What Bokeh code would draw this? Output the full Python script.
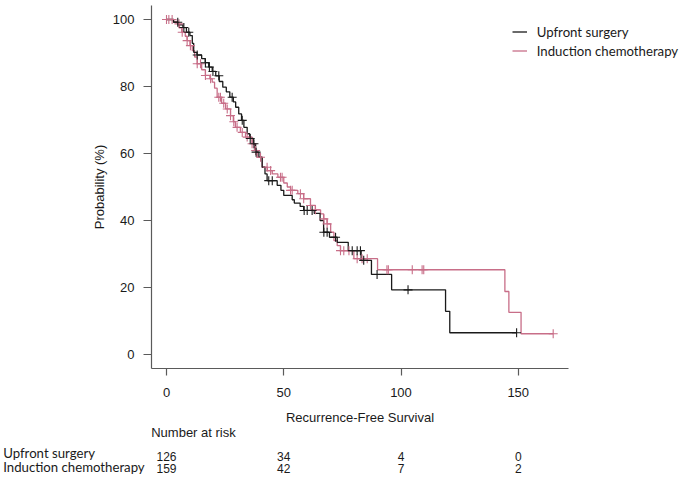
import numpy as np
from bokeh.plotting import figure
from bokeh.models import Range1d, FixedTicker, Legend, LegendItem
from bokeh.core.properties import value
from bokeh.embed import file_html
from bokeh.resources import INLINE

# ---------------- data ----------------
group_names = ["Upfront surgery", "Induction chemotherapy"]

# Upfront surgery: event times and survival (%) after each event
surg_times = [3, 5, 7, 8.5, 10, 11, 11.6, 13, 15, 16.5, 18, 19.5, 21, 22.5, 24, 25.5,
              27, 28.5, 29.5, 30.8, 32, 33, 34.4, 35.5, 37, 38, 39.4, 40.8, 42, 42.9,
              47.2, 48.8, 50, 53.6, 54.5, 57, 58.5, 63, 65.5, 67, 69.5, 72.8, 77.5,
              83, 87.4, 96, 119, 120.8]
surg_surv = [99.2, 98.4, 97.6, 96.2, 95.2, 92.9, 90.2, 89.4, 88.3, 87.1, 85.8, 84.5,
             83.2, 81.5, 79.8, 78.4, 76.8, 75.4, 73.8, 71.8, 69.9, 67.8, 65.9, 64.5,
             62.9, 60.4, 58.9, 55.9, 53.9, 51.9, 50.5, 49.0, 47.5, 46.2, 45.2, 44.2,
             43.0, 42.1, 40.0, 36.5, 35.0, 33.5, 31.0, 28.1, 23.9, 19.3, 12.9, 6.5]
surg_censor = [4.8, 7.4, 9.5, 13.1, 16.6, 18.3, 19.8, 22.3, 28.0, 32.3, 35.7, 37.3,
               38.2, 43.6, 45.1, 58.7, 60.0, 62.1, 67.1, 68.5, 72.1, 79.2, 81.3,
               82.7, 84.1, 89.8, 103.0]
surg_end = 149.3

# Induction chemotherapy
chemo_times = [3, 4.6, 5.5, 6.5, 8, 8.8, 10, 11, 12, 13.1, 15, 16.6, 18.5, 19.5, 20.5,
               21.6, 23.5, 25.2, 27.3, 28.5, 29.4, 31.5, 33.7, 36.5, 37.5, 38.7, 40.8,
               43, 45.1, 47.5, 50, 51.5, 52.9, 56, 58.5, 61.4, 63.5, 65.7, 67, 68.5,
               70, 71.4, 72.8, 74.2, 79.9, 90, 144.3, 146, 151.2]
chemo_surv = [99.4, 98.7, 97.5, 96.2, 95.0, 93.7, 92.2, 90.7, 88.8, 86.8, 85.0, 83.3,
              82.3, 81.3, 79.5, 76.8, 75.0, 73.3, 71.3, 69.5, 67.8, 66.3, 64.9, 62.9,
              60.9, 58.9, 55.9, 54.9, 53.9, 52.9, 51.2, 50.0, 49.0, 48.0, 46.5, 44.5,
              43.2, 42.0, 40.5, 39.0, 36.5, 34.0, 32.5, 31.0, 28.6, 25.3, 18.8, 12.6, 6.2]
chemo_censor = [0.0, 1.0, 2.4, 5.3, 6.7, 8.8, 10.2, 13.1, 14.5, 16.6, 18.8, 22.3, 23.0,
                24.4, 25.9, 27.3, 28.7, 30.1, 32.3, 34.4, 36.5, 38.0, 40.1, 42.9, 44.4,
                48.6, 49.3, 52.9, 53.6, 57.1, 58.5, 61.4, 63.5, 67.1, 68.5, 74.2, 75.6,
                77.8, 81.3, 83.4, 85.6, 94.0, 94.6, 104.8, 109.0, 109.7]
chemo_end = 164.9

risk_times = [0, 50, 100, 150]
risk_surg = [126, 34, 4, 0]
risk_chemo = [159, 42, 7, 2]

x_ticks = [0, 50, 100, 150]
y_ticks = [0, 20, 40, 60, 80, 100]

x_title = "Recurrence-Free Survival"
y_title = "Probability (%)"
risk_title = "Number at risk"

# ---------------- styles / geometry (page pixels) ----------------
BLACK = "#1a1a1a"
PINK = "#c86e88"
AXIS = "#5a5a5a"
TXT = "#1a1a1a"
SANS = "Liberation Sans"
CAL = "Lato"

W, H = 682, 482
AX_L, AX_T, AX_B, AX_R = 151, 5, 368, 568   # where the axis lines run
X_ZERO_PX, X_PX_PER = 166.0, 2.345
Y_ZERO_PX, Y_PX_PER = 354.0, 3.35


def xd(px):
    return (px - X_ZERO_PX) / X_PX_PER


def yd(py):
    return (Y_ZERO_PX - py) / Y_PX_PER


def km_path(times, surv, end):
    return [0] + list(times) + [end], [100] + list(surv) + [surv[-1]]


def surv_at(times, surv, ts):
    idx = np.searchsorted(np.array(times), np.array(ts), side="right")
    s = np.array([100.0] + list(surv))
    return list(s[idx])


p = figure(width=W, height=H, output_backend="svg", toolbar_location=None,
           x_range=Range1d(xd(0), xd(W)), y_range=Range1d(yd(H), yd(0)),
           min_border_left=0, min_border_right=0, min_border_top=0, min_border_bottom=0)
p.outline_line_color = None
p.xgrid.visible = False
p.ygrid.visible = False
p.background_fill_color = "white"
p.border_fill_color = "white"

for ax in (p.xaxis[0], p.yaxis[0]):
    ax.axis_line_color = AXIS
    ax.axis_line_width = 1.2
    ax.major_tick_line_color = AXIS
    ax.major_tick_line_width = 1.2
    ax.major_tick_in = 0
    ax.minor_tick_line_color = None
    ax.major_label_text_font = SANS
    ax.major_label_text_font_size = "13px"
    ax.major_label_text_color = TXT
    ax.axis_label_text_font = SANS
    ax.axis_label_text_font_size = "13px"
    ax.axis_label_text_font_style = "normal"
    ax.axis_label_text_color = TXT

p.xaxis.ticker = FixedTicker(ticks=x_ticks)
p.yaxis.ticker = FixedTicker(ticks=y_ticks)
p.xaxis.fixed_location = yd(AX_B)
p.yaxis.fixed_location = xd(AX_L)
p.xaxis.bounds = (xd(AX_L), xd(AX_R))
p.yaxis.bounds = (yd(AX_B), yd(AX_T))
p.xaxis.major_tick_out = 7
p.yaxis.major_tick_out = 8
p.xaxis.major_label_standoff = 12
p.yaxis.major_label_standoff = 9
p.yaxis.axis_label = y_title
p.yaxis.axis_label_standoff = 3

sx, sy = km_path(surg_times, surg_surv, surg_end)
cx, cy = km_path(chemo_times, chemo_surv, chemo_end)
r_chemo = p.step(cx, cy, mode="after", line_color=PINK, line_width=1.3)
r_surg = p.step(sx, sy, mode="after", line_color=BLACK, line_width=1.3)

c_all = chemo_censor + [chemo_end]
s_all = surg_censor + [surg_end]
p.scatter(c_all, surv_at(chemo_times, chemo_surv, c_all),
          marker="cross", size=9, line_color=PINK, line_width=1.1)
p.scatter(s_all, surv_at(surg_times, surg_surv, s_all),
          marker="cross", size=9, line_color=BLACK, line_width=1.1)

legend = Legend(items=[LegendItem(label=group_names[0], renderers=[r_surg]),
                       LegendItem(label=group_names[1], renderers=[r_chemo])],
                location=(511.7, H - 59.2),
                glyph_width=15, glyph_height=17, label_height=17, label_standoff=10,
                spacing=2, padding=0, margin=0,
                border_line_color=None, background_fill_alpha=0,
                label_text_font=CAL, label_text_font_size="13.2px",
                label_text_color=TXT)
p.add_layout(legend)

# x-axis title and number-at-risk table
p.text(x=[(xd(AX_L) + xd(AX_R)) / 2], y=[yd(416.7)], text=[x_title], text_font=value(SANS),
       text_font_size="13px", text_align="center", text_baseline="middle", text_color=TXT)
p.text(x=[xd(150.7)], y=[yd(431.7)], text=[risk_title], text_font=value(SANS),
       text_font_size="13px", text_align="left", text_baseline="middle", text_color=TXT)
p.text(x=[xd(2.7)] * 2, y=[yd(452.5), yd(466.5)], text=group_names, text_font=value(CAL),
       text_font_size="13.2px", text_align="left", text_baseline="middle", text_color=TXT)
p.text(x=risk_times, y=[yd(456.2)] * len(risk_times), text=[str(v) for v in risk_surg],
       text_font=value(SANS), text_font_size="12px", text_align="center",
       text_baseline="middle", text_color=TXT)
p.text(x=risk_times, y=[yd(468.3)] * len(risk_times), text=[str(v) for v in risk_chemo],
       text_font=value(SANS), text_font_size="12px", text_align="center",
       text_baseline="middle", text_color=TXT)

open("out.html", "w").write(file_html(p, INLINE))
